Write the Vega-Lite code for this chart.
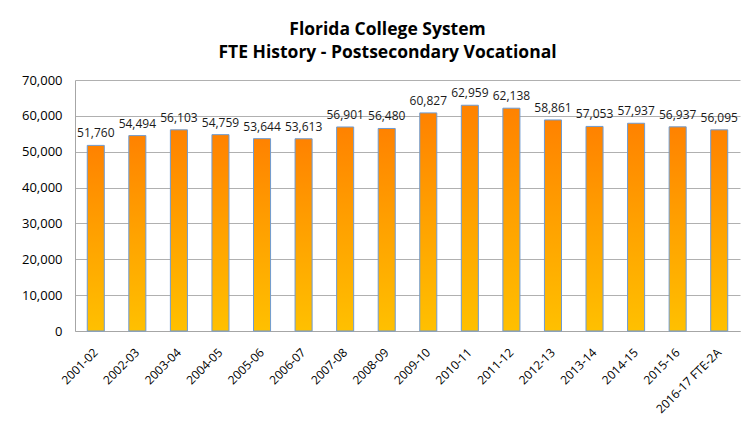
{
  "$schema": "https://vega.github.io/schema/vega-lite/v6.json",
  "autosize": "none",
  "width": 665,
  "height": 251,
  "padding": {"left": 75, "top": 80, "right": 8, "bottom": 96},
  "background": "white",
  "title": {
    "text": ["Florida College System", "FTE History - Postsecondary Vocational"],
    "font": "Open Sans",
    "fontSize": 17.5,
    "fontWeight": "bold",
    "color": "#000000",
    "lineHeight": 23,
    "anchor": "middle",
    "dx": -20,
    "offset": 13
  },
  "data": {
    "values": [
      {"year": "2001-02", "fte": 51760},
      {"year": "2002-03", "fte": 54494},
      {"year": "2003-04", "fte": 56103},
      {"year": "2004-05", "fte": 54759},
      {"year": "2005-06", "fte": 53644},
      {"year": "2006-07", "fte": 53613},
      {"year": "2007-08", "fte": 56901},
      {"year": "2008-09", "fte": 56480},
      {"year": "2009-10", "fte": 60827},
      {"year": "2010-11", "fte": 62959},
      {"year": "2011-12", "fte": 62138},
      {"year": "2012-13", "fte": 58861},
      {"year": "2013-14", "fte": 57053},
      {"year": "2014-15", "fte": 57937},
      {"year": "2015-16", "fte": 56937},
      {"year": "2016-17 FTE-2A", "fte": 56095}
    ]
  },
  "encoding": {
    "x": {
      "field": "year",
      "type": "nominal",
      "sort": null,
      "scale": {"paddingInner": 0.59, "paddingOuter": 0.295},
      "axis": {
        "title": null,
        "labelAngle": -45,
        "labelAlign": "right",
        "labelBaseline": "middle",
        "labelFont": "Open Sans",
        "labelFontSize": 12,
        "labelColor": "#000000",
        "labelPadding": 19,
        "ticks": false,
        "domainColor": "#a6a6a6",
        "grid": false
      }
    },
    "y": {
      "field": "fte",
      "type": "quantitative",
      "scale": {"domain": [0, 70000], "nice": false},
      "axis": {
        "title": null,
        "values": [0, 10000, 20000, 30000, 40000, 50000, 60000, 70000],
        "format": ",d",
        "labelFont": "Open Sans",
        "labelFontSize": 13,
        "labelColor": "#000000",
        "labelPadding": 13,
        "ticks": false,
        "domainColor": "#a6a6a6",
        "gridColor": "#b0b0b0",
        "gridWidth": 1
      }
    }
  },
  "layer": [
    {
      "mark": {
        "type": "bar",
        "stroke": "#6f9bd1",
        "strokeWidth": 1,
        "color": {
          "gradient": "linear",
          "x1": 0, "y1": 0, "x2": 0, "y2": 1,
          "stops": [
            {"offset": 0, "color": "#ff8200"},
            {"offset": 0.5, "color": "#ffa200"},
            {"offset": 1, "color": "#ffc000"}
          ]
        }
      }
    },
    {
      "mark": {
        "type": "text",
        "baseline": "alphabetic",
        "dy": -8,
        "font": "Open Sans",
        "fontSize": 12,
        "color": "#1a1a1a"
      },
      "encoding": {
        "text": {"field": "fte", "type": "quantitative", "format": ",d"}
      }
    }
  ],
  "config": {"view": {"stroke": null}}
}
